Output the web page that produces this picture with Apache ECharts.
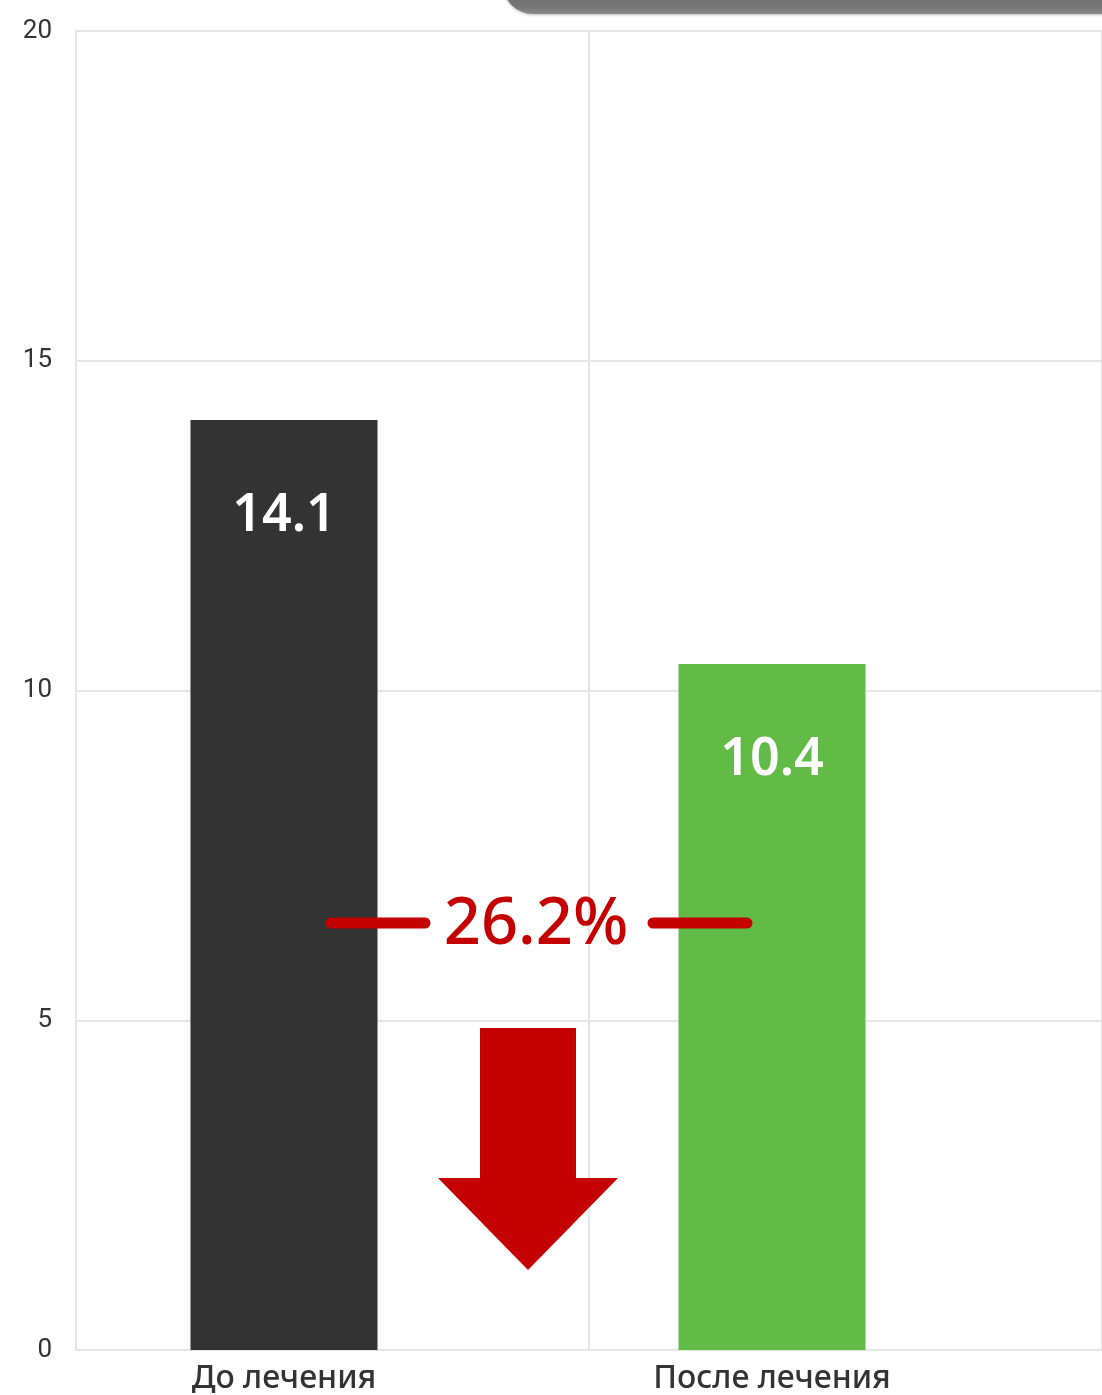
<!DOCTYPE html>
<html>
<head>
<meta charset="utf-8">
<script src="https://cdn.jsdelivr.net/npm/echarts@6/dist/echarts.min.js"></script>
<style>
  html, body { margin: 0; padding: 0; background: #fff; }
  #chart { width: 1102px; height: 1395px; }
</style>
</head>
<body>
<div id="chart"></div>
<script>
const categories = ['До лечения', 'После лечения']
const values = [14.1, 10.4]
const barColors = ['#333333', '#61bb46']
const yTicks = { min: 0, max: 20, interval: 5 }

const drop = ((values[0] - values[1]) / values[0] * 100).toFixed(1) + '%'

const chart = echarts.init(document.getElementById('chart'))
const red = '#c40000'
const gridLine = { color: '#e6e6e6', width: 2 }

chart.setOption({
  animation: false,
  // grid 0: the frame (y axis, gridlines); grid 1: the bars
  grid: [
    { left: 76, top: 31, bottom: 45, right: -6 },
    { left: 40, top: 31, bottom: 45, width: 976 },
  ],
  xAxis: [
    {
      gridIndex: 0,
      type: 'category',
      data: categories,
      axisLine: { lineStyle: gridLine },
      axisTick: { show: false },
      axisLabel: { show: false },
      splitLine: { show: true, lineStyle: gridLine },
    },
    {
      gridIndex: 1,
      type: 'category',
      data: categories,
      axisLine: { show: false },
      axisTick: { show: false },
      axisLabel: { color: '#333', fontSize: 32, fontFamily: 'Noto Sans', fontWeight: 500, margin: 13 },
    },
  ],
  yAxis: [
    {
      gridIndex: 0,
      type: 'value',
      min: yTicks.min,
      max: yTicks.max,
      interval: yTicks.interval,
      axisLine: { show: true, lineStyle: gridLine },
      axisTick: { show: false },
      splitLine: { lineStyle: gridLine },
      axisLabel: { color: '#333', fontSize: 26, fontFamily: 'Roboto', margin: 24 },
    },
    {
      gridIndex: 1,
      type: 'value',
      min: yTicks.min,
      max: yTicks.max,
      interval: yTicks.interval,
      show: false,
    },
  ],
  series: [{
    type: 'bar',
    xAxisIndex: 1,
    yAxisIndex: 1,
    barWidth: 187,
    data: values.map((v, i) => ({ value: v, itemStyle: { color: barColors[i] } })),
    label: {
      show: true,
      position: 'insideTop',
      distance: 70,
      color: '#fff',
      fontSize: 52,
      fontWeight: 600,
      fontFamily: 'Noto Sans',
    },
  }],
  graphic: [
    {
      type: 'rect',
      shape: { x: 503, y: -60, width: 900, height: 74, r: 30 },
      style: {
        fill: new echarts.graphic.LinearGradient(0, 0, 0, 1, [
          { offset: 0, color: '#6a6a6a' },
          { offset: 0.9, color: '#747474' },
          { offset: 1, color: '#8a8a8a' },
        ]),
        shadowBlur: 3, shadowColor: 'rgba(0,0,0,0.25)', shadowOffsetY: 1,
      },
      z: 100,
    },
    {
      type: 'line',
      shape: { x1: 331, y1: 923, x2: 425, y2: 923 },
      style: { stroke: red, lineWidth: 11, lineCap: 'round' },
      z: 100,
    },
    {
      type: 'line',
      shape: { x1: 653, y1: 923, x2: 747, y2: 923 },
      style: { stroke: red, lineWidth: 11, lineCap: 'round' },
      z: 100,
    },
    {
      type: 'text',
      x: 536, y: 925,
      style: {
        text: drop,
        fill: red,
        fontSize: 65,
        fontWeight: 500,
        fontFamily: 'Noto Sans',
        align: 'center',
        verticalAlign: 'middle',
      },
      z: 100,
    },
    {
      type: 'polygon',
      shape: { points: [[480, 1028], [576, 1028], [576, 1178], [618, 1178], [528, 1270], [438, 1178], [480, 1178]] },
      style: { fill: red },
      z: 100,
    },
  ],
})
</script>
</body>
</html>
